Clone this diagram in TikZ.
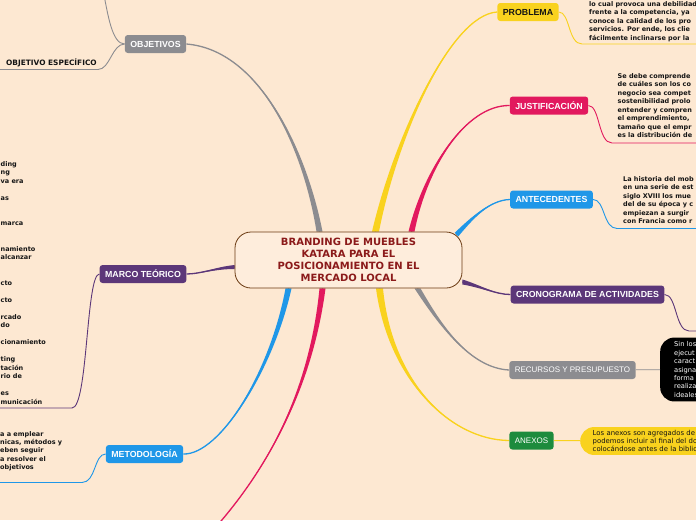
\documentclass[tikz,border=0pt]{standalone}
\usepackage{fontspec}
\setmainfont{DejaVu Sans}
\newfontfamily\labelfont{Liberation Sans}
\usetikzlibrary{calc,backgrounds}
\definecolor{paper}{HTML}{FDE8D2}
\definecolor{hubfill}{HTML}{FEEDDC}
\definecolor{hubline}{HTML}{6B3A12}
\definecolor{hubred}{HTML}{8B1A1A}
\definecolor{greyline}{HTML}{8C8C90}
\definecolor{sunyellow}{HTML}{F9D21E}
\definecolor{rosered}{HTML}{E2195E}
\definecolor{skyblue}{HTML}{1F97E8}
\definecolor{plum}{HTML}{5C3779}
\definecolor{leafgreen}{HTML}{1D8B3D}
\definecolor{leafink}{HTML}{141414}

% colour, start, control 1, control 2, end, half width at start
\newcommand{\taper}[6]{%
  \fill[#1] ($(#2)+(#6)$) .. controls ($(#3)+0.5*(#6)$) and (#4) .. (#5)
    .. controls (#4) and ($(#3)-0.5*(#6)$) .. ($(#2)-(#6)$) -- cycle;
  \draw[#1,line width=1.3pt] (#2) .. controls (#3) and (#4) .. (#5);}

\begin{document}
\begin{tikzpicture}[x=1pt,y=-1pt,
  hub/.style={draw=hubline,line width=0.8pt,fill=hubfill,rounded corners=16pt,minimum width=227pt,minimum height=56pt,align=center,text=hubred,font=\bfseries\fontsize{10}{12}\selectfont},
  topic/.style={rounded corners=3pt,minimum height=18pt,inner xsep=5.5pt,inner ysep=0pt,text=white,font=\labelfont\bfseries\fontsize{8.8}{10}\selectfont},
  softtopic/.style={topic,font=\labelfont\fontsize{8}{10}\selectfont},
  leaf/.style={anchor=north west,inner sep=0pt,align=left,text=leafink,font=\bfseries\fontsize{6.5}{8.5}\selectfont},
  bubble/.style={anchor=west,rounded corners=14pt,align=left,text width=150pt},
  twig/.style={line width=0.9pt}
]
\useasboundingbox (0,0) rectangle (696,520);
\clip (0,0) rectangle (696,520);

\node[hub] (hub) at (348.5,260) {BRANDING DE MUEBLES\\KATARA PARA EL\\POSICIONAMIENTO EN EL\\MERCADO LOCAL};

\node[topic,fill=greyline] (objetivos) at (155.5,44) {OBJETIVOS};
\node[topic,fill=sunyellow,text=leafink] (problema) at (528,12) {PROBLEMA};
\node[topic,fill=rosered] (justif) at (549,105.5) {JUSTIFICACIÓN};
\node[topic,fill=skyblue] (antec) at (551.5,199.5) {ANTECEDENTES};
\node[topic,fill=plum] (crono) at (587.5,294.5) {CRONOGRAMA DE ACTIVIDADES};
\node[softtopic,fill=greyline] (recursos) at (572.5,370) {RECURSOS Y PRESUPUESTO};
\node[softtopic,fill=leafgreen] (anexos) at (531.5,440.5) {ANEXOS};
\node[topic,fill=plum] (marco) at (143,274) {MARCO TEÓRICO};
\node[topic,fill=skyblue] (metodo) at (144.5,454) {METODOLOGÍA};

\node[leaf] (probtxt) at (589,1) {lo cual provoca una debilidad\\frente a la competencia, ya\\conoce la calidad de los pro\\servicios. Por ende, los clie\\fácilmente inclinarse por la};
\node[leaf] (justxt) at (617.5,73) {Se debe comprende\\de cuáles son los co\\negocio sea compet\\sostenibilidad prolo\\entender y compren\\el emprendimiento,\\tamaño que el empr\\es la distribución de};
\node[leaf] (anttxt) at (623,176) {La historia del mob\\en una serie de est\\siglo XVIII los mue\\del de su época y c\\empiezan a surgir\\con Francia como r};
\node[leaf] (marcotxt) at (0.5,161) {ding\\ng\\va era\\[8.5pt]as\\[17pt]marca\\[17pt]namiento\\alcanzar\\[17pt]cto\\[8.5pt]cto\\[8.5pt]rcado\\do\\[8.5pt]cionamiento\\[8.5pt]ting\\tación\\rio de\\[8.5pt]es\\municación};
\node[leaf,font=\bfseries\fontsize{6.5}{8.3}\selectfont] (mettxt) at (0,431) {a a emplear\\nicas, métodos y\\eben seguir\\a resolver el\\objetivos};
\node[anchor=west,inner sep=0pt,text=leafink,font=\bfseries\fontsize{7.4}{9}\selectfont] (oetxt) at (6,62.5) {OBJETIVO ESPECÍFICO};
\node[bubble,fill=black,text=white,inner xsep=14pt,inner ysep=4pt,text width=90pt,font=\fontsize{6.7}{8.45}\selectfont] (recleaf) at (660,369.5) {Sin los\\ejecut\\caract\\asigna\\forma\\realiza\\ideales};
\node[bubble,fill=sunyellow,text=leafink,inner xsep=12.5pt,inner ysep=3pt,font=\fontsize{6.9}{8.3}\selectfont] (anxleaf) at (580,441) {Los anexos son agregados de\\podemos incluir al final del do\\colocándose antes de la biblio};

\coordinate (sObj) at ([xshift=-29pt]hub.north);
\coordinate (sPro) at ([xshift=27pt]hub.north);
\coordinate (sJus) at ([xshift=63pt]hub.north);
\coordinate (sAnt) at ([xshift=108pt,yshift=-3pt]hub.north);
\coordinate (sCro) at ([yshift=-22pt]hub.east);
\coordinate (sRec) at ([xshift=69pt]hub.south);
\coordinate (sAnx) at ([xshift=31pt]hub.south);
\coordinate (sPnk) at ([xshift=-26pt]hub.south);
\coordinate (sMet) at ([xshift=-60pt]hub.south);
\coordinate (sMar) at ([yshift=-7pt]hub.west);
\coordinate (pnkend) at (215,528);

\begin{scope}[on background layer]
\fill[paper] (0,0) rectangle (696,520);
\taper{greyline}{sObj}{305,150}{260,50}{objetivos.east}{3,0}
\taper{sunyellow}{sPro}{395,140}{450,15}{problema.west}{3.5,0}
\taper{rosered}{sJus}{425,170}{465,105}{justif.west}{3,0}
\taper{skyblue}{sAnt}{472,218}{490,200}{antec.west}{1.8,1.8}
\taper{plum}{sCro}{480,286}{495,294.5}{crono.west}{0,2.5}
\taper{greyline}{sRec}{440,325}{470,368}{recursos.west}{3,0}
\taper{sunyellow}{sAnx}{390,380}{450,440}{anexos.west}{3.5,0}
\taper{rosered}{sPnk}{312,380}{275,460}{pnkend}{3,0}
\taper{skyblue}{sMet}{272,370}{220,455}{metodo.east}{3,0}
\taper{plum}{sMar}{215,268}{200,274}{marco.east}{0,2}
\end{scope}

\coordinate (ogend) at (103,-10);
\coordinate (oeend) at (0,69.5);
\coordinate (mtend) at (0,408);
\coordinate (meend) at (0,482.5);
\coordinate (pbend) at (700,44);
\coordinate (jsend) at (700,143);
\coordinate (atend) at (700,228.5);
\coordinate (crend) at (700,331);
\draw[twig,greyline] (objetivos.west) .. controls (112,44) and (108,15) .. (ogend);
\draw[twig,greyline] (objetivos.west) .. controls (112,44) and (110,69.5) .. (98,69.5) -- (oeend);
\draw[twig,plum] (marco.west) .. controls (86,274) and (88,408) .. (72,408) -- (mtend);
\draw[twig,skyblue] (metodo.west) .. controls (94,454) and (96,482.5) .. (82,482.5) -- (meend);
\draw[twig,sunyellow] (problema.east) .. controls (570,12) and (568,44) .. (582,44) -- (pbend);
\draw[twig,rosered] (justif.east) .. controls (600,105.5) and (598,143) .. (612,143) -- (jsend);
\draw[twig,skyblue] (antec.east) .. controls (605,199.5) and (603,228.5) .. (617,228.5) -- (atend);
\draw[twig,plum] (crono.east) .. controls (677,294.5) and (675,331) .. (689,331) -- (crend);
\draw[twig,greyline] (recursos) -- (recleaf);
\draw[twig,sunyellow] (anexos) -- (anxleaf);
\end{tikzpicture}
\end{document}
